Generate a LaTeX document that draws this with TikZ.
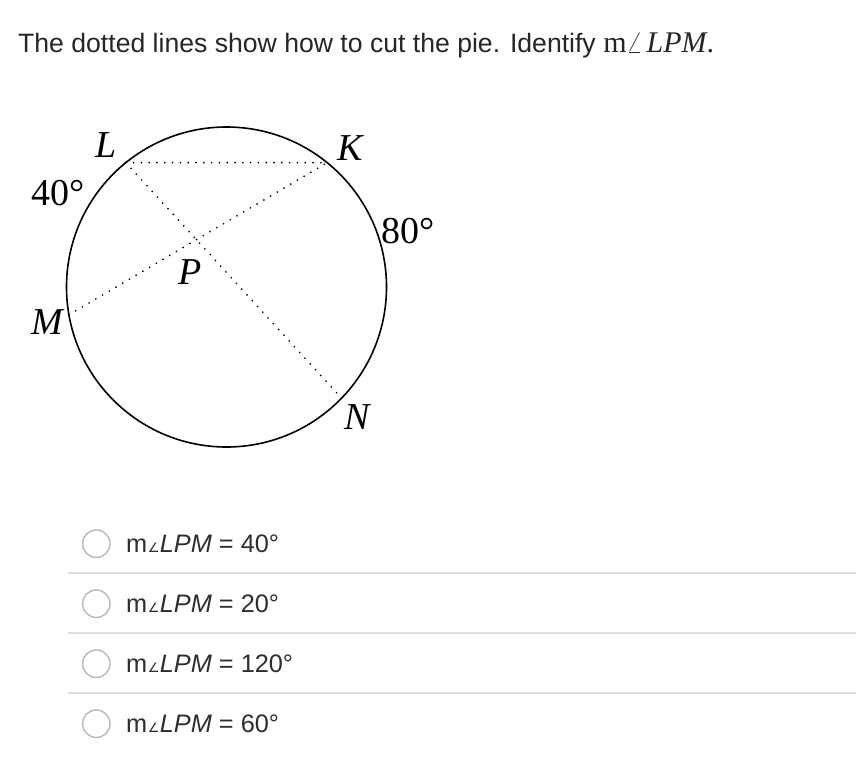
\documentclass[tikz,border=0pt]{standalone}
\usepackage{fontspec}
\setmainfont{Liberation Sans}
\newfontfamily\serifface{Liberation Serif}
\newfontfamily\dejavu{DejaVu Sans}
\usetikzlibrary{calc}
\definecolor{txt}{HTML}{262626}
\definecolor{opttxt}{HTML}{2E2E2E}
\definecolor{sepgray}{HTML}{DCDCDC}
\definecolor{radiogray}{HTML}{B8B8B8}
\tikzset{
  arcline/.style={line width=1.6pt, black},
  cutline/.style={line width=1.9pt, line cap=round, dash pattern=on 0pt off 7.8pt, black},
  ptlabel/.style={inner sep=0pt, font=\fontsize{38}{40}\selectfont\serifface\itshape},
  deglabel/.style={inner sep=0pt, font=\fontsize{38}{40}\selectfont\serifface},
  sepline/.style={line width=1.8pt, sepgray},
  radio/.style={circle, draw=radiogray, line width=1.4pt, minimum size=27.5pt, inner sep=0pt},
  opttext/.style={anchor=base west, inner sep=0pt, text=opttxt, font=\fontsize{25.3}{27}\selectfont},
}
\newcommand{\smallang}{{\dejavu\fontsize{13}{13}\selectfont\kern0.5pt∠\kern0.5pt}}
\newcommand{\optlab}[1]{m\smallang\textit{LPM} = #1°}
\begin{document}
\begin{tikzpicture}[x=1pt,y=-1pt]
  \useasboundingbox (0,0) rectangle (856,782);
  \fill[white] (0,0) rectangle (856,782);
  % title
  \node[anchor=base west, inner sep=0pt, text=txt, font=\fontsize{26.6}{30}\selectfont] (title) at (18,52)
    {The dotted lines show how to cut the pie. Identify {\serifface\fontsize{30}{32}\selectfont m$\angle$\kern4pt\textit{LPM}.}};
  % circle
  \coordinate (O) at (226.5,287);
  \draw[arcline] (O) circle[radius=160];
  \coordinate (L) at ($(O)+(-129:160)$);
  \coordinate (K) at ($(O)+(-51:160)$);
  \coordinate (M) at ($(O)+(170:160)$);
  \coordinate (N) at ($(O)+(44:160)$);
  \draw[cutline] (L) -- (K);
  \draw[cutline] (L) -- (N);
  \draw[cutline] (M) -- (K);
  % labels
  \node[ptlabel] (lL) at (106,145) {L};
  \node[ptlabel] (lK) at (350,148) {K};
  \node[ptlabel] (lM) at (47,322) {M};
  \node[ptlabel] (lN) at (357,417) {N};
  \node[ptlabel] (lP) at (190,272) {P};
  \node[deglabel] (d40) at (58,193) {40°};
  \node[deglabel] (d80) at (408,231) {80°};
  % options
  \node[radio] (r1) at (96.3,543.7) {};
  \node[radio] (r2) at (96.3,603.7) {};
  \node[radio] (r3) at (96.3,663.7) {};
  \node[radio] (r4) at (96.3,723.7) {};
  \node[opttext] (o1) at (126,552.3) {\optlab{40}};
  \node[opttext] (o2) at (126,612.3) {\optlab{20}};
  \node[opttext] (o3) at (126,672.3) {\optlab{120}};
  \node[opttext] (o4) at (126,732.3) {\optlab{60}};
  \draw[sepline] (68,572.8) -- (856,572.8);
  \draw[sepline] (68,633.0) -- (856,633.0);
  \draw[sepline] (68,692.8) -- (856,692.8);
\end{tikzpicture}
\end{document}
